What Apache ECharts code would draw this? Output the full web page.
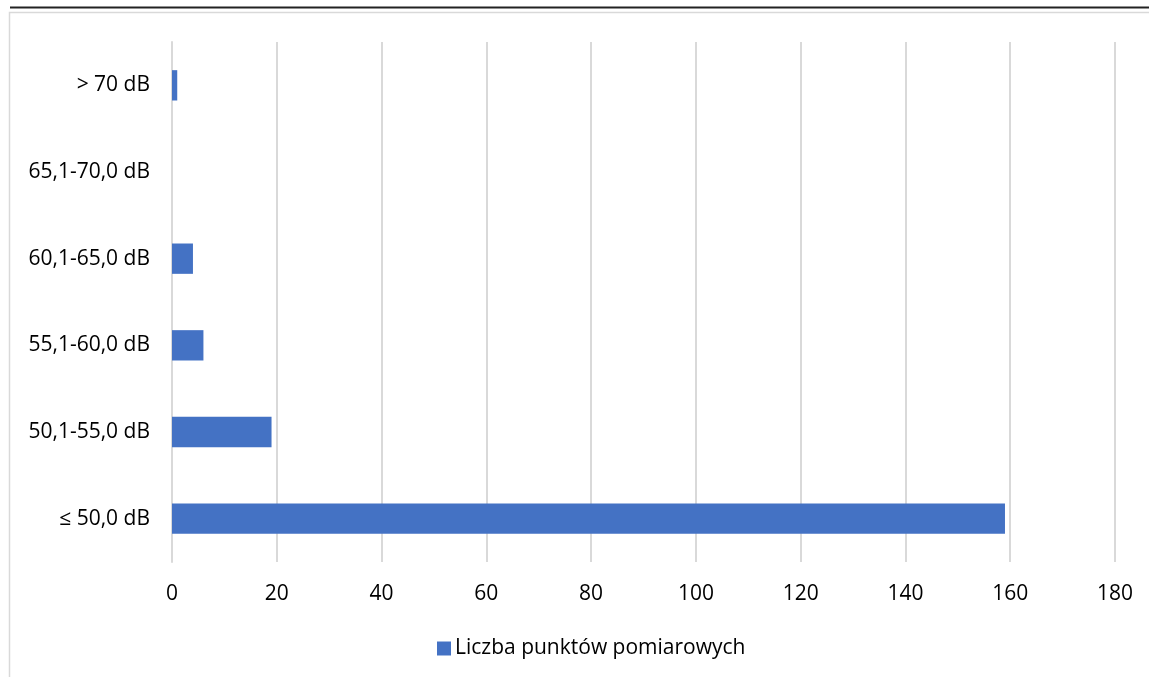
<!DOCTYPE html>
<html>
<head>
<meta charset="utf-8">
<script src="https://cdn.jsdelivr.net/npm/echarts@6/dist/echarts.min.js"></script>
<style>
html,body{margin:0;padding:0;background:#fff;}
#chart{width:1149px;height:677px;}
</style>
</head>
<body>
<div id="chart"></div>
<script>
const categories = ['≤ 50,0 dB', '50,1-55,0 dB', '55,1-60,0 dB', '60,1-65,0 dB', '65,1-70,0 dB', '> 70 dB'];
const seriesName = 'Liczba punktów pomiarowych';
const values = [159, 19, 6, 4, 0, 1];
const xTicks = { min: 0, max: 180, interval: 20 };

const FONT = '"Open Sans", sans-serif';
const FS = 21;
const chart = echarts.init(document.getElementById('chart'));
chart.setOption({
  animation: false,
  backgroundColor: '#ffffff',
  textStyle: { fontFamily: FONT },
  graphic: [
    { type: 'line', shape: { x1: 10, y1: 7.5, x2: 1149, y2: 7.5 }, style: { stroke: '#222', lineWidth: 2 }, silent: true },
    { type: 'polyline', shape: { points: [[9.5, 677], [9.5, 12.5], [1149, 12.5]] }, style: { stroke: '#d9d9d9', lineWidth: 1.5, fill: null }, silent: true }
  ],
  grid: { left: 172, right: 34, top: 42, bottom: 115, containLabel: false },
  legend: {
    bottom: 13,
    left: 432,
    itemWidth: 14, itemHeight: 14,
    icon: 'rect',
    itemGap: 6,
    textStyle: { fontFamily: FONT, fontSize: FS, color: '#000', padding: [0, 0, 0, -1] },
    data: [seriesName]
  },
  xAxis: {
    type: 'value',
    min: xTicks.min, max: xTicks.max, interval: xTicks.interval,
    axisLine: { show: false },
    axisTick: { show: false },
    axisLabel: { fontFamily: FONT, fontSize: FS, color: '#000', margin: 22 },
    splitLine: { show: true, lineStyle: { color: '#d9d9d9', width: 2 } }
  },
  yAxis: {
    type: 'category',
    data: categories,
    axisLine: { show: true, lineStyle: { color: '#d9d9d9', width: 2 } },
    axisTick: { show: false },
    axisLabel: { fontFamily: FONT, fontSize: FS, color: '#000', margin: 22 }
  },
  series: [{
    name: seriesName,
    type: 'bar',
    data: values,
    barWidth: '35%',
    itemStyle: { color: '#4472c4' }
  }]
});
</script>
</body>
</html>
